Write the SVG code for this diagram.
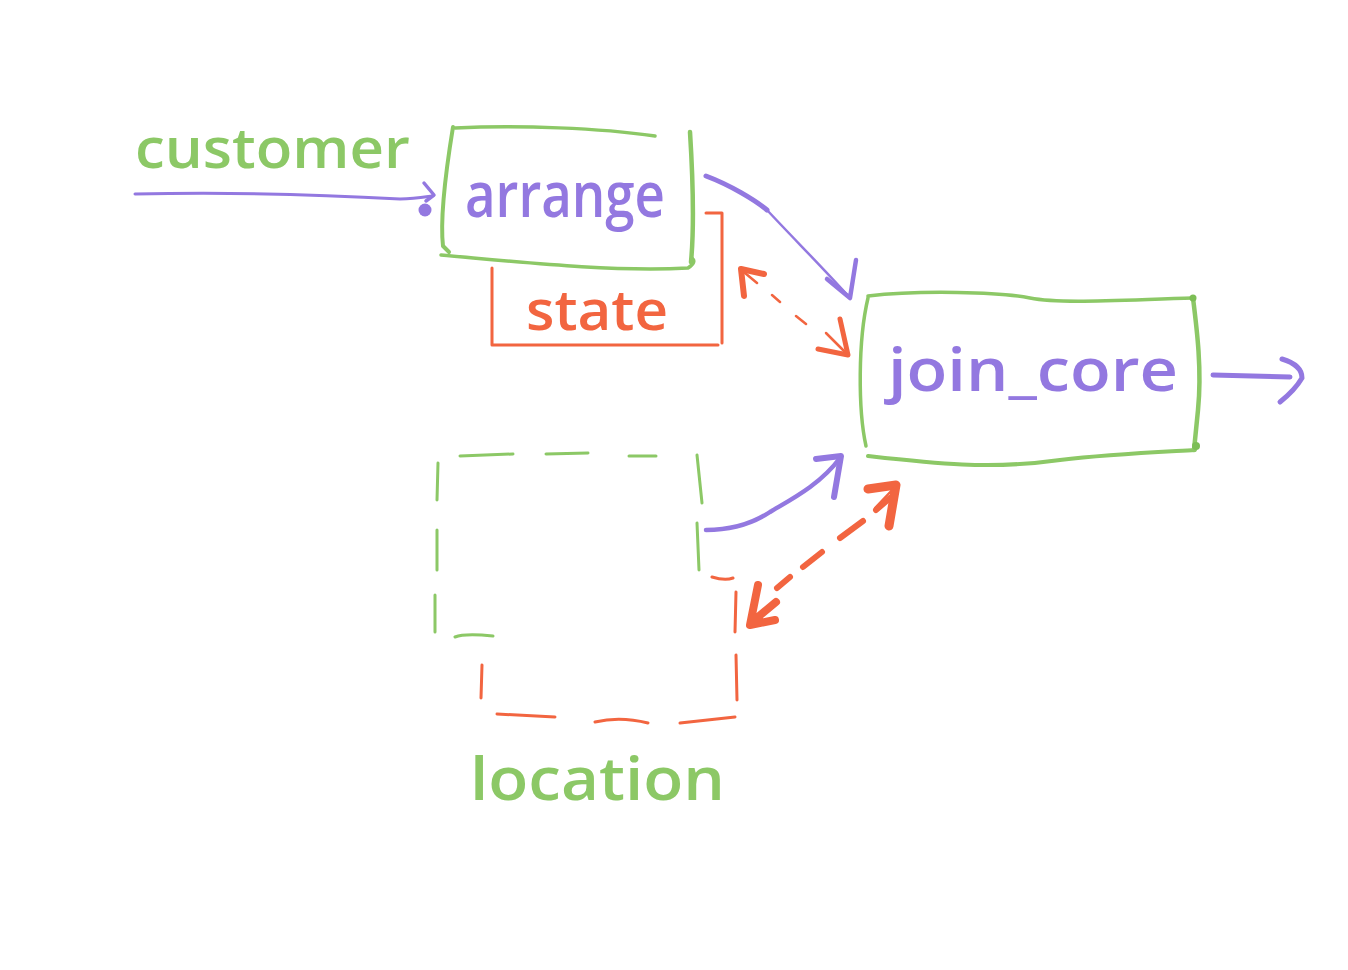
<svg xmlns="http://www.w3.org/2000/svg" width="1348" height="970" viewBox="0 0 1348 970">
<style>
.g{fill:none;stroke:#8cc866;stroke-linecap:round;stroke-linejoin:round}
.p{fill:none;stroke:#9378e0;stroke-linecap:round;stroke-linejoin:round}
.o{fill:none;stroke:#f26540;stroke-linecap:round;stroke-linejoin:round}
.t{font-family:"Open Sans","DejaVu Sans",sans-serif;font-weight:600}
</style>
<rect width="1348" height="970" fill="#ffffff"/>
<g id="customer-label">
<text class="t" x="135" y="168" font-size="56" fill="#8cc866" textLength="275" lengthAdjust="spacingAndGlyphs">customer</text>
</g>
<g id="arrange">
<path class="g" stroke-width="3.5" d="M455,128 C520,125 600,128 655,136"/>
<path class="g" stroke-width="4" d="M453,127 C446,170 440,220 443,246 L449,252"/>
<path class="g" stroke-width="3.5" d="M441,255 C520,262 610,272 688,268 Q697,262 692,258"/>
<path class="g" stroke-width="4.5" d="M690,132 C693,180 694,230 691,262"/>
<text class="t" x="465" y="217" font-size="64" fill="#9378e0" textLength="200" lengthAdjust="spacingAndGlyphs">arrange</text>
</g>
<g id="state">
<path class="o" stroke-width="3" d="M492,268 L492,345 L718,345"/>
<path class="o" stroke-width="3" d="M706,213 L722,213 L722,343"/>
<text class="t" x="526" y="330" font-size="56" fill="#f26540" textLength="142" lengthAdjust="spacingAndGlyphs">state</text>
</g>
<g id="join_core">
<path class="g" stroke-width="3.5" d="M868,296 C920,290 1000,292 1030,298 C1060,304 1120,300 1193,298"/>
<path class="g" stroke-width="3.5" d="M868,298 C858,340 858,410 866,446"/>
<path class="g" stroke-width="4" d="M868,456 C930,463 990,470 1060,460 C1110,454 1160,452 1195,450"/>
<path class="g" stroke-width="4.5" d="M1193,298 C1197,330 1202,370 1198,410 L1194,450"/>
<circle cx="1193" cy="298" r="3.5" fill="#7cbe55"/>
<circle cx="1196" cy="446" r="4" fill="#7cbe55"/>
<text class="t" x="888" y="391" font-size="60" fill="#9378e0" textLength="290" lengthAdjust="spacingAndGlyphs">join_core</text>
</g>
<g id="location">
<path class="g" stroke-width="3" d="M460,456 L513,454 M546,454 L588,453 M629,456 L656,456 M697,455 L702,503 M697,523 L699,570 M438,463 L437,500 M437,530 L437,570 M435,595 L435,632 M455,637 Q465,633 493,636"/>
<path class="o" stroke-width="3" d="M712,577 Q725,581 733,578 M736,592 L735,632 M736,655 L737,700 M735,717 L680,723 M648,723 Q620,716 595,722 M555,717 L497,714 M482,665 L481,698"/>
<text class="t" x="470" y="800" font-size="60" fill="#8cc866" textLength="255" lengthAdjust="spacingAndGlyphs">location</text>
</g>
<g id="connectors">
<path class="p" stroke-width="3" d="M135,194 C230,192 330,195 400,199 C415,199 425,197 432,196"/>
<path class="p" stroke-width="3.5" d="M424,183 L434,195 L426,201"/>
<circle cx="425" cy="210" r="6.5" fill="#9378e0"/>
<path class="p" stroke-width="5" d="M706,176 C730,185 755,200 767,210"/>
<path class="p" stroke-width="2.5" d="M767,210 C795,240 825,270 850,298"/>
<path class="p" stroke-width="4.5" d="M827,279 L850,298 L856,260"/>
<path class="o" stroke-width="2.5" d="M745,273 L757,283 M772,295 L780,302 M796,316 L806,324"/>
<path class="o" stroke-width="6" d="M744,296 L741,269 L764,274"/>
<path class="o" stroke-width="5" d="M818,349 L848,355 L840,319"/>
<path class="o" stroke-width="2.5" d="M826,333 L846,353"/>
<path class="p" stroke-width="5" d="M1213,375 L1290,377"/>
<path class="p" stroke-width="5" d="M1282,359 Q1302,365 1302,378 Q1295,390 1280,402"/>
<path class="p" stroke-width="4.5" d="M706,530 C735,530 755,522 770,512 C790,500 820,485 840,458"/>
<path class="p" stroke-width="6" d="M816,459 L841,456 L834,497"/>
<path class="o" stroke-width="6" d="M876,510 L890,498 M863,521 L840,538 M822,552 L803,567 M790,577 L777,588"/>
<path class="o" stroke-width="9" d="M868,489 L896,485 L889,526"/>
<path class="o" stroke-width="2.5" d="M875,508 L895,487"/>
<path class="o" stroke-width="8" d="M758,585 L750,625 L775,620 M752,622 L776,602"/>
</g>
</svg>
